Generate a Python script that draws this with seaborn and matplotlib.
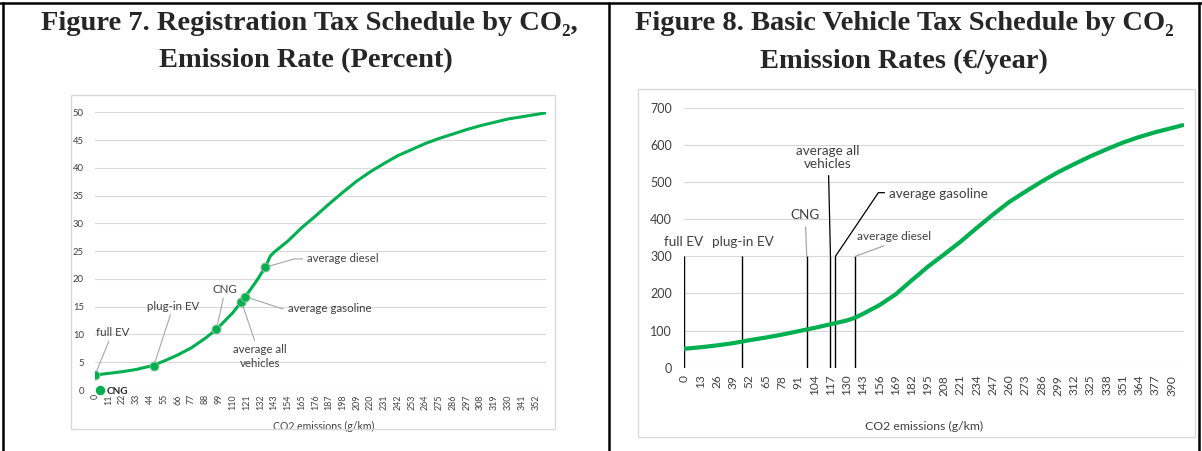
import numpy as np
import pandas as pd
import matplotlib
matplotlib.use('Agg')
import matplotlib.pyplot as plt
import seaborn as sns
from matplotlib.lines import Line2D
from matplotlib.patches import Rectangle

# Figure 7: registration tax (percent) by CO2 emissions
left_co2 = [0, 11, 22, 33, 46, 55, 66, 77, 88, 97, 110, 117, 120, 128, 136, 140, 143, 154,
            165, 176, 187, 198, 209, 220, 231, 242, 253, 264, 275, 286, 297, 308, 319,
            330, 341, 352, 360]
left_rate = [2.7, 3.0, 3.3, 3.7, 4.4, 5.2, 6.3, 7.6, 9.3, 10.9, 13.9, 15.9, 16.8, 19.3, 22.1,
             24.1, 24.8, 26.8, 29.2, 31.3, 33.5, 35.6, 37.6, 39.3, 40.8, 42.2, 43.3, 44.4,
             45.3, 46.1, 46.9, 47.6, 48.2, 48.8, 49.2, 49.6, 49.9]
left_vehicle_co2 = [0, 47, 97, 117, 120, 136]
left_vehicle_rate = [2.7, 4.4, 10.9, 15.9, 16.8, 22.1]

# Figure 8: basic vehicle tax (EUR/year) by CO2 emissions
right_co2 = [0, 13, 26, 39, 52, 65, 78, 91, 104, 117, 130, 137, 143, 156, 169, 182, 195, 208,
             221, 234, 247, 260, 273, 286, 299, 312, 325, 338, 351, 364, 377, 390, 399]
right_tax = [51, 55, 60, 66, 74, 81, 89, 98, 107, 117, 127, 135, 145, 168, 197, 235, 272, 305,
             339, 376, 412, 446, 474, 501, 526, 548, 569, 588, 606, 621, 634, 645, 653]
right_vehicle_co2 = [0, 46, 98, 117, 121, 137]
right_line_top = 300

vehicles = ['full EV', 'plug-in EV', 'CNG', 'average all\nvehicles', 'average gasoline', 'average diesel']
left_xticks = list(range(0, 353, 11))
right_xticks = list(range(0, 391, 13))
left_yticks = list(range(0, 51, 5))
right_yticks = list(range(0, 701, 100))

left_df = pd.DataFrame({'co2': left_co2, 'rate': left_rate})
right_df = pd.DataFrame({'co2': right_co2, 'tax': right_tax})
pts_df = pd.DataFrame({'co2': left_vehicle_co2, 'rate': left_vehicle_rate, 'vehicle': vehicles})

sns.set_style('white')
plt.rcParams['font.family'] = ['Lato', 'DejaVu Sans']

green = '#00B050'
grid = '#D9D9D9'
txt = '#404040'
lead = '#A6A6A6'

W, H = 1202, 451
fig = plt.figure(figsize=(W / 100, H / 100), dpi=100)


def fx(px):
    return px / W


def fy(py):
    return 1 - py / H


# table borders and chart boxes
for x0, x1, y0, y1 in [(0, W, 3, 3), (3, 3, 3, H), (608.5, 608.5, 3, H), (1199, 1199, 3, H)]:
    fig.add_artist(Line2D([fx(x0), fx(x1)], [fy(y0), fy(y1)], color='black', lw=1.8))
fig.add_artist(Rectangle((fx(70.5), fy(429)), fx(555) - fx(70.5), fy(95) - fy(429),
                         fill=False, edgecolor=grid, lw=1))
fig.add_artist(Rectangle((fx(638), fy(437)), fx(1195) - fx(638), fy(89) - fy(437),
                         fill=False, edgecolor=grid, lw=1))

serif = ['Liberation Serif', 'DejaVu Serif']
tfs = 20.5
fig.text(fx(309), fy(24), 'Figure 7. Registration Tax Schedule by CO\u2082,', ha='center', va='center',
         fontsize=tfs, fontweight='bold', family=serif)
fig.text(fx(306), fy(61), 'Emission Rate (Percent)', ha='center', va='center',
         fontsize=tfs, fontweight='bold', family=serif)
fig.text(fx(904), fy(24), 'Figure 8. Basic Vehicle Tax Schedule by CO\u2082', ha='center', va='center',
         fontsize=tfs, fontweight='bold', family=serif)
fig.text(fx(904), fy(61), 'Emission Rates (\u20ac/year)', ha='center', va='center',
         fontsize=tfs, fontweight='bold', family=serif)

# ---- left chart
ax1 = fig.add_axes([fx(95), fy(390), fx(545.7) - fx(95), fy(112.3) - fy(390)])
sns.lineplot(data=left_df, x='co2', y='rate', color=green, lw=2.2, ax=ax1)
sns.scatterplot(data=pts_df, x='co2', y='rate', color=green, s=40, edgecolor='#7fbf8f',
                linewidth=0.8, zorder=5, ax=ax1)
ax1.set_xlim(0, 360)
ax1.set_ylim(0, 50)
ax1.set_xticks(left_xticks)
ax1.set_xticklabels([str(v) for v in left_xticks], rotation=90, fontsize=6.4, color=txt)
ax1.set_yticks(left_yticks)
ax1.set_yticklabels([str(v) for v in left_yticks], fontsize=6.8, color=txt)
ax1.tick_params(axis='x', length=0, pad=3)
ax1.tick_params(axis='y', length=0, pad=8)
ax1.yaxis.grid(True, color=grid, lw=0.8)
ax1.set_axisbelow(True)
for s in ax1.spines.values():
    s.set_visible(False)
ax1.set_xlabel('CO2 emissions (g/km)', fontsize=7.6, color=txt)
ax1.xaxis.set_label_coords((324 - 95) / 450.7, -(421 - 390) / 277.7)
ax1.set_ylabel('')

afs = 8.3
arr = dict(arrowstyle='-', color=lead, lw=0.8, shrinkA=0, shrinkB=3)
ax1.annotate(vehicles[0], xy=(left_vehicle_co2[0], left_vehicle_rate[0]), xytext=(13.8, 10.3),
             ha='center', va='center', fontsize=afs, color=txt, arrowprops=arr)
ax1.annotate(vehicles[1], xy=(left_vehicle_co2[1], left_vehicle_rate[1]), xytext=(62.5, 15.1),
             ha='center', va='center', fontsize=afs, color=txt, arrowprops=arr)
ax1.annotate(vehicles[2], xy=(left_vehicle_co2[2], left_vehicle_rate[2]), xytext=(104, 18.1),
             ha='center', va='center', fontsize=afs, color=txt, arrowprops=arr)
ax1.annotate(vehicles[3], xy=(left_vehicle_co2[3], left_vehicle_rate[3]), xytext=(131.8, 6.0),
             ha='center', va='center', fontsize=afs, color=txt, linespacing=1.4, arrowprops=arr)
ax1.annotate(vehicles[4], xy=(left_vehicle_co2[4], left_vehicle_rate[4]), xytext=(154, 14.6),
             ha='left', va='center', fontsize=afs, color=txt,
             arrowprops=dict(arr, relpos=(0, 0.5), shrinkA=1,
                             connectionstyle='angle,angleA=0,angleB=-18,rad=0'))
ax1.annotate(vehicles[5], xy=(left_vehicle_co2[5], left_vehicle_rate[5]), xytext=(169.6, 23.6),
             ha='left', va='center', fontsize=afs, color=txt,
             arrowprops=dict(arr, relpos=(0, 0.5), shrinkA=1,
                             connectionstyle='angle,angleA=0,angleB=16,rad=0'))

fig.legend(handles=[Line2D([], [], marker='o', color=green, ls='None', ms=5.8)], labels=['CNG'],
           loc='center left', bbox_to_anchor=(fx(95), fy(391)), frameon=False,
           handlelength=0.9, handletextpad=0.3, borderpad=0, borderaxespad=0,
           prop=dict(size=7.2, weight='bold'))

# ---- right chart
ax2 = fig.add_axes([fx(684.3), fy(367.7), fx(1184) - fx(684.3), fy(107.7) - fy(367.7)])
ax2.vlines(right_vehicle_co2, 0, right_line_top, color='black', lw=1, zorder=3)
sns.lineplot(data=right_df, x='co2', y='tax', color=green, lw=3, ax=ax2, zorder=4)
ax2.set_xlim(0, 400)
ax2.set_ylim(0, 700)
ax2.set_xticks(right_xticks)
ax2.set_xticklabels([str(v) for v in right_xticks], rotation=90, fontsize=8.6, color=txt)
ax2.set_yticks(right_yticks)
ax2.set_yticklabels([str(v) for v in right_yticks], fontsize=9, color=txt)
ax2.tick_params(axis='x', length=0, pad=5)
ax2.tick_params(axis='y', length=0, pad=9)
ax2.yaxis.grid(True, color=grid, lw=0.8)
ax2.set_axisbelow(True)
for s in ax2.spines.values():
    s.set_visible(False)
ax2.set_xlabel('CO2 emissions (g/km)', fontsize=8.8, color=txt)
ax2.xaxis.set_label_coords((924 - 684.3) / 499.7, -(421 - 367.7) / 260)
ax2.set_ylabel('')

rfs = 9.7
ax2.text(-0.5, 339, vehicles[0], ha='center', va='center', fontsize=rfs, color=txt)
ax2.text(47.2, 339, vehicles[1], ha='center', va='center', fontsize=rfs, color=txt)
ax2.annotate(vehicles[2], xy=(right_vehicle_co2[2], right_line_top), xytext=(96.8, 411),
             ha='center', va='center', fontsize=rfs, color=txt,
             arrowprops=dict(arrowstyle='-', color=lead, lw=0.9, shrinkA=2, shrinkB=0))
ax2.annotate(vehicles[3], xy=(right_vehicle_co2[3], right_line_top), xytext=(115.2, 567),
             ha='center', va='center', fontsize=rfs, color=txt, linespacing=1.1,
             arrowprops=dict(arrowstyle='-', color='black', lw=0.9, shrinkA=2, shrinkB=0))
ax2.annotate(vehicles[4], xy=(right_vehicle_co2[4], right_line_top), xytext=(164, 468),
             ha='left', va='center', fontsize=rfs, color=txt,
             arrowprops=dict(arrowstyle='-', color='black', lw=0.9, shrinkA=1, shrinkB=0,
                             relpos=(0, 0.6),
                             connectionstyle='angle,angleA=0,angleB=56,rad=0'))
ax2.annotate(vehicles[5], xy=(right_vehicle_co2[5], right_line_top), xytext=(138.4, 353),
             ha='left', va='center', fontsize=8.6, color=txt,
             arrowprops=dict(arrowstyle='-', color=lead, lw=0.9, shrinkA=1, shrinkB=0,
                             relpos=(0.5, 0)))

fig.savefig('out.png', dpi=100)
